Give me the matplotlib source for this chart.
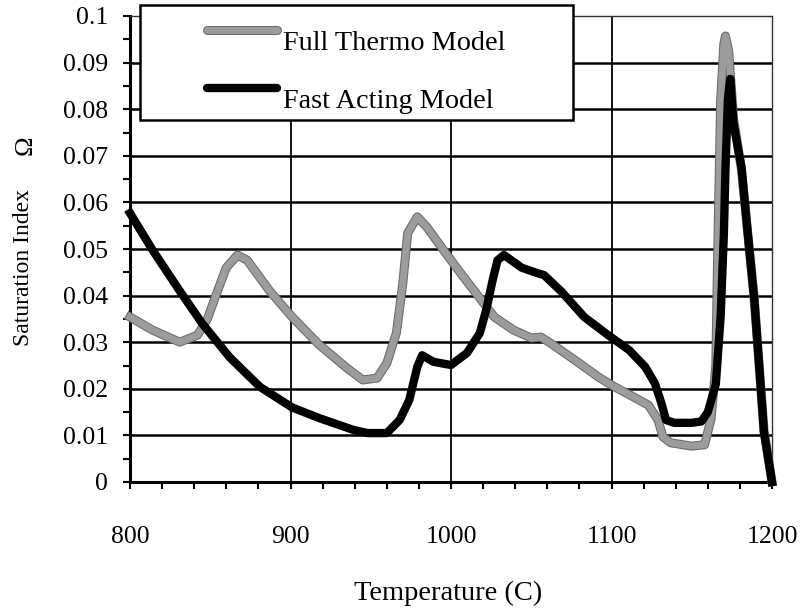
import matplotlib
matplotlib.use("Agg")
import matplotlib.pyplot as plt
import matplotlib.patheffects as pe
from matplotlib.patches import Rectangle
from matplotlib.lines import Line2D
from matplotlib.ticker import MultipleLocator

plt.rcParams['font.family'] = ['Liberation Serif', 'DejaVu Serif']

# temperature (C) and saturation index for the two models
thermo_t = [800, 814, 831, 842, 848, 854, 860, 867, 873, 887,
            901, 918, 935, 945, 954, 960, 966, 970, 973, 979,
            985, 994, 1006, 1019, 1027, 1039, 1050, 1056, 1062, 1077,
            1092, 1102, 1114, 1123, 1129, 1132, 1137, 1150, 1158, 1162,
            1165, 1166, 1167, 1168, 1170, 1171, 1173, 1176, 1181, 1185,
            1189, 1192, 1195, 1200]
thermo_si = [0.0354, 0.0326, 0.030, 0.0315, 0.0348, 0.0405, 0.046, 0.0487, 0.0476, 0.041,
             0.0354, 0.0294, 0.0245, 0.0219, 0.0223, 0.0255, 0.032, 0.0427, 0.0534, 0.0569,
             0.0547, 0.0504, 0.0448, 0.039, 0.0354, 0.0326, 0.0309, 0.0311, 0.0298, 0.0262,
             0.0225, 0.0204, 0.0182, 0.0165, 0.0133, 0.0097, 0.0084, 0.0077, 0.0080, 0.0135,
             0.025, 0.046, 0.064, 0.082, 0.094, 0.0957, 0.0925, 0.078, 0.067, 0.053,
             0.039, 0.025, 0.011, 0.0]

fast_t = [800, 814, 831, 845, 862, 881, 901, 918, 939, 948,
          960, 968, 974, 979, 982, 989, 1000, 1010, 1018, 1022,
          1026, 1029, 1033, 1044, 1054, 1058, 1069, 1083, 1098, 1111,
          1121, 1127, 1131, 1134, 1139, 1150, 1156, 1160, 1165, 1168,
          1170, 1171, 1172.5, 1174, 1176, 1181, 1185, 1189, 1192, 1195,
          1200]
fast_si = [0.0577, 0.0498, 0.041, 0.034, 0.0268, 0.0204, 0.016, 0.0137, 0.0112, 0.0105,
           0.0105, 0.0133, 0.0176, 0.0247, 0.0272, 0.0258, 0.0251, 0.0277, 0.032, 0.037,
           0.0434, 0.0476, 0.0487, 0.046, 0.0448, 0.0444, 0.0408, 0.0354, 0.0315, 0.0283,
           0.0247, 0.0212, 0.017, 0.0133, 0.0127, 0.0127, 0.013, 0.015, 0.021, 0.0355,
           0.053, 0.067, 0.082, 0.0865, 0.077, 0.0675, 0.053, 0.039, 0.025, 0.0107,
           0.0]

labels = ["Full Thermo Model", "Fast Acting Model"]
gray = "#9c9c9c"
gray_fx = [pe.Stroke(linewidth=6.5, foreground="#6a6a6a"), pe.Normal()]

W, H = 803, 611
fig = plt.figure(figsize=(W / 100, H / 100), dpi=100)
ax = fig.add_axes([130 / W, 1 - 482 / H, 642 / W, 466 / H])

ax.set_xlim(800, 1200)
ax.set_ylim(0, 0.1)

# grid
for y in [0.01 * i for i in range(1, 10)]:
    ax.axhline(y, color="black", lw=1.8, zorder=1)
for x in [900, 1000, 1100]:
    ax.axvline(x, color="black", lw=1.3, zorder=1)

ax.plot(thermo_t, thermo_si, color=gray, lw=5, solid_joinstyle="round",
        zorder=3, clip_on=False, path_effects=gray_fx)
ax.plot(fast_t, fast_si, color="black", lw=6, solid_joinstyle="round",
        zorder=4, clip_on=False)

ax.xaxis.set_major_locator(MultipleLocator(100))
ax.xaxis.set_minor_locator(MultipleLocator(20))
ax.yaxis.set_minor_locator(MultipleLocator(0.005))
ax.set_yticks([0.01 * i for i in range(11)])
ax.set_yticklabels(["0"] + ["%.2f" % (0.01 * i) for i in range(1, 10)] + ["0.1"])

ax.tick_params(which="both", direction="out", length=5, width=1.5,
               top=False, right=False, labelsize=18.5, color="black")
ax.tick_params(axis="x", pad=27)
ax.tick_params(axis="y", pad=11)

for s in ["left", "bottom"]:
    ax.spines[s].set_linewidth(2.2)
for s in ["top", "right"]:
    ax.spines[s].set_linewidth(1)
    ax.spines[s].set_linestyle((0, (1, 1)))
    ax.spines[s].set_color("#333333")

fig.text(448 / W, 1 - 593 / H, "Temperature (C)", ha="center", va="center",
         fontsize=20.5)
fig.text(24 / W, 1 - 268 / H, "Saturation Index", rotation=90,
         ha="center", va="center", fontsize=17)
fig.text(26 / W, 1 - 145 / H, "Ω", rotation=90,
         ha="center", va="center", fontsize=19)

# legend box
fig.add_artist(Rectangle((140 / W, 1 - 120 / H), 433 / W, 115 / H,
                         transform=fig.transFigure, facecolor="white",
                         edgecolor="black", lw=1.8, zorder=10))
for (yl, yt), col, lab in zip([(30, 44), (88, 101)], [gray, "black"], labels):
    fx = gray_fx if col == gray else None
    fig.add_artist(Line2D([207 / W, 277 / W], [1 - yl / H, 1 - yl / H],
                          transform=fig.transFigure, color=col,
                          lw=5 if fx else 6, solid_capstyle="round",
                          zorder=11, path_effects=fx))
    fig.text(283 / W, 1 - yt / H, lab, ha="left", va="center",
             fontsize=20.3, zorder=11)

fig.savefig("out.png", dpi=100)
